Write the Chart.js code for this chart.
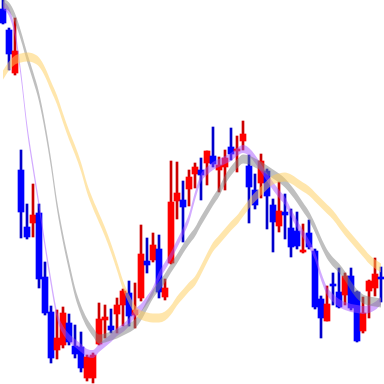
<!DOCTYPE html>
<html><head><meta charset="utf-8">
<script src="https://cdn.jsdelivr.net/npm/chart.js@4/dist/chart.umd.min.js"></script>
<style>html,body{margin:0;padding:0;background:#fff;overflow:hidden}canvas{display:block}</style>
</head><body><canvas id="c" width="384" height="384"></canvas>
<script>
const labels = ['1','2','3','4','5','6','7','8','9','10','11','12','13','14','15','16','17','18','19','20','21','22','23','24','25','26','27','28','29','30','31','32','33','34','35','36','37','38','39','40','41','42','43','44','45','46','47','48','49','50','51','52','53','54','55','56','57','58','59','60','61','62','63','64'];
const open  = [375,354,311,214,157,161,171,107,72,34,39,61,38,37,6,6,40,64,58,70,79,91,69,86,123,124,135,87,121,183,184,195,210,214,221,228,214,217,237,233,243,218,194,201,213,179,158,172,156,153,132,151,133,85,63,100,92,89,108,92,53,93,96,107];
const high  = [387,356,366,234,180,200,180,122,78,74,77,70,59,52,29,31,81,79,75,86,95,103,101,159,146,151,149,105,223,222,203,214,221,226,233,257,227,234,256,248,263,229,210,230,215,185,202,190,175,172,160,164,135,88,98,111,116,111,116,93,87,104,126,117];
const low   = [360,314,309,146,145,147,96,69,21,25,36,39,26,12,3,1,39,46,51,51,58,58,56,83,111,122,86,84,120,165,142,178,196,184,199,217,192,194,224,212,234,161,175,186,155,132,152,145,127,135,131,135,75,46,63,79,76,79,74,42,51,66,88,82];
const close = [361,330,333,172,147,169,105,71,26,46,71,42,30,16,27,29,65,67,54,79,93,68,74,130,119,139,92,96,182,191,177,207,217,209,233,220,219,226,230,235,250,197,179,223,188,162,173,169,137,138,134,137,77,66,80,98,77,108,76,43,71,103,110,105];
const maShort = [379,372,351,309,257,217,179,139,102,69,54,46,41,36,31,30,36,41,46,52,56,62,71,76,84,93,108,118,128,140,152,166,188,206,213,218,221,224,227,232,235,232,225,216,207,198,190,183,171,160,150,140,128,108,93,86,81,78,76,75,74,75,78,83];
const maMid = [381,377,366,348,327,308,287,257,221,179,146,118,92,74,61,52,45,46,48,50,53,56,60,68,79,90,98,106,116,125,135,144,152,163,173,183,192,204,213,220,225,224,221,218,214,210,206,201,194,186,177,168,156,142,130,122,116,108,98,90,85,83,82,81];
const maLong = [309,318,324,326,327,326,322,312,298,284,266,249,234,217,196,180,166,152,136,118,99,85,74,69,67,66,66,68,74,83,90,97,103,114,126,137,144,151,158,164,172,180,187,193,199,204,206,207,205,201,197,193,187,181,175,169,161,153,146,139,132,125,120,116];

const up = close.map((c,i)=>c>=open[i]);
const bodyColors = up.map(u=>u?'#ff0000':'#0000ff');
const wickColors = up.map(u=>u?'#cc0000':'#0000cc');

function band(ma, half, color){
  const common = {type:'line', borderWidth:0, borderColor:'rgba(0,0,0,0)', pointRadius:0, order:0, cubicInterpolationMode:'monotone'};
  return [
    Object.assign({}, common, {data: ma.map(v=>v+half), fill:false}),
    Object.assign({}, common, {data: ma.map(v=>v-half), fill:'-1', backgroundColor:color})
  ];
}

new Chart(document.getElementById('c'), {
  type:'bar',
  data:{
    labels: labels,
    datasets:[
      {type:'bar', data: low.map((l,i)=>[l,high[i]]), backgroundColor: wickColors, barThickness:2, grouped:false, order:2, borderWidth:0},
      {type:'bar', data: open.map((o,i)=>[o,close[i]]), backgroundColor: bodyColors, barThickness:6, grouped:false, order:1, borderWidth:0, minBarLength:1},
      ...band(maLong, 4.5, 'rgba(255,205,90,0.5)'),
      ...band(maMid, 4.5, 'rgba(128,128,128,0.5)'),
      ...band(maShort, 4, 'rgba(160,80,255,0.48)')
    ]
  },
  options:{
    responsive:false,
    animation:false,
    devicePixelRatio:1,
    layout:{padding:0},
    plugins:{legend:{display:false}, tooltip:{enabled:false}},
    scales:{
      x:{type:'category', offset:true, display:false},
      y:{min:0, max:384, display:false}
    }
  }
});
</script>
</body></html>
